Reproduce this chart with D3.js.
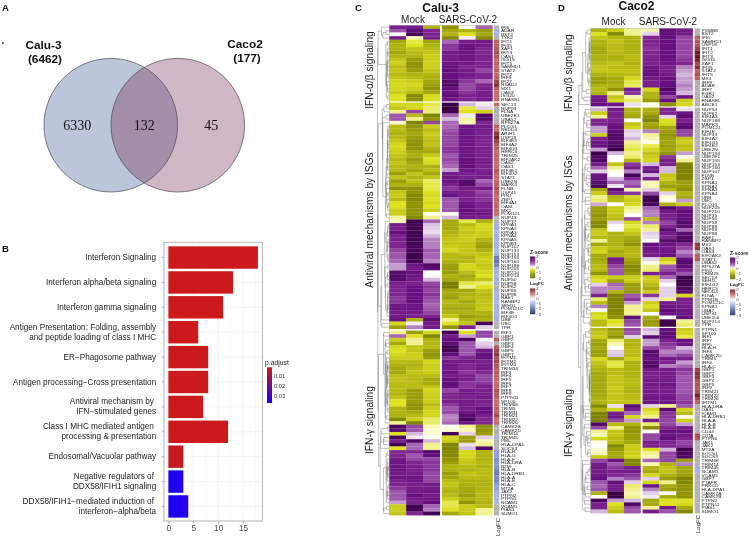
<!DOCTYPE html>
<html><head><meta charset="utf-8">
<script src="https://cdn.jsdelivr.net/npm/d3@7"></script>
<style>
html,body{margin:0;padding:0;background:#fff}
svg{display:block;font-family:"Liberation Sans",Arial,sans-serif;filter:blur(.35px)}
text{white-space:pre}
</style></head><body><div id="chart"></div>
<script>
// ---------- Panel A ----------
const vennSets = ["Calu-3","(6462)","Caco2","(177)"];
const vennCounts = [6330,132,45];
// ---------- Panel B ----------
const pathways = ["Interferon Signaling","Interferon alpha/beta signaling","Interferon gamma signaling",
 "Antigen Presentation: Folding, assembly\nand peptide loading of class I MHC","ER−Phagosome pathway",
 "Antigen processing−Cross presentation","Antiviral mechanism by \nIFN−stimulated genes",
 "Class I MHC mediated antigen \nprocessing & presentation","Endosomal/Vacuolar pathway",
 "Negative regulators of \nDDX58/IFIH1 signaling","DDX58/IFIH1−mediated induction of \ninterferon−alpha/beta"];
const pathwayCounts = [18,13,11,6,8,8,7,12,3,3,4];
const pathwayPadj = [0.001,0.001,0.001,0.001,0.001,0.001,0.001,0.001,0.002,0.034,0.034];
const barTicks = [0,5,10,15];
const padjTicks = [0.01,0.02,0.03];
// ---------- Panel C : Calu-3 ----------
const caluGenes1 = "IFI6 ADAR BST2 TYK2 IFIT1 IFI35 XAF1 IFIT3 OAS1 ISG15 IFIT5 SAMHD1 STAT2 IFIT2 IRF9 IFI27 RSAD2 MX1 OAS3 ISG20 RNASEL".split(" ");
const caluZ1 = [[1.1,1.2,-1,-1.3,0,.6],[.7,1.5,1,-1.1,-1,-1.2],[.05,1.8,1,-1,-.5,-1.1],[1.2,-.1,1.1,-1.4,.1,-1.4],
[-1.1,-.4,-1.1,.6,1.2,1.2],[-1,-.5,-1,.9,1.3,1.2],[-1,-.8,-.9,.9,1.4,1],[-1.1,-.9,-.8,1.2,1.3,1],[-1,-1,-.7,1.2,1.3,1.1],[-.8,-1.2,-.7,1.2,1.3,1],
[-.7,-1.3,-.7,1.3,1.2,1],[-.9,-1.3,-.7,1.4,1,1.1],[-.8,-1.2,-.8,1.4,1.2,.8],[-.9,-1,-.9,1.4,1.2,1],[-.8,-.9,-1,1.4,1.1,1],[-.6,-.7,-1.1,1.6,.9,.6],
[-.6,-.6,-1.2,1.7,.8,1],[-.6,-.7,-1.3,1.4,.8,1.1],[-.7,-.9,-1.1,1.3,.9,1.1],[-.5,-1.4,-.6,1.5,1.1,1.2],[-.5,-1.3,-.5,1.3,1,1.2]];
const caluFC1 = [null,-1,-1,null,1.1,1.1,1.2,1.3,1.2,1,1.1,1,1.1,1,1.1,1.4,1.7,1.1,1,1,1];
const caluGenes2 = "SEC13 NUP93 FLNA UBE2E1 UBA52 RPS27A PLCG1 NEDD4 ARIH1 USP18 EIF4E3 EIF4A2 EIF4G3 HERC5 TRIM25 EIF2AK2 OAS2 OAS1 EIF4E2 EIF4G2 STAT1 UBE2N MAPK3 FLNB USP41 PIN1 ZBP1 EIF4A1 OASL MX2 POM121 NUP43 NUP37 KPNA1 KPNA2 KPNA3 KPNA4 KPNA5 KPNB1 NUP107 NUP133 NUP153 NUP155 NUP160 NUP188 NUP205 NUP210 NUP214 NUP50 NUP58 NUP62 NUP85 NUP98 RAE1 RANBP2 SEH1L POM121C EIF4E EIF4G1 UBB UBC TPR".split(" ");
const caluZ2 = [[-.6,-.6,-.4,2,.3,.1],[-.8,-.6,-.3,2,-.4,.2],[-.2,.8,-.25,1.9,-.5,-.6],[.7,-.9,-1.5,.6,.1,1.7],[.7,-.2,-1.3,.3,-.15,1.6],[-.05,-1.5,.8,.6,-.1,1],
[-.9,-1.3,-.7,.6,1.3,1.2],[-.9,-1.2,-.9,.7,1.3,1.2],[-1,-1.1,-.7,.8,1.3,1.1],[-.9,-1.2,-.8,.8,1.3,1.1],[-.8,-1.3,-.9,.8,1.3,1],[-.6,-1.3,-.8,.8,1.3,1],
[-.6,-1.3,-1,.9,1.3,1.1],[-.7,-1.1,-1.1,.9,1.3,1.1],[-.8,-1,-.7,.7,1.3,1.1],[-.9,-1.2,-.5,.8,1.4,1.1],[-.8,-1.1,-.6,.7,1.4,1.2],[-.9,-1,-1,.6,1.4,1.1],
[-.9,-1.1,-.9,.4,1.3,1.1],[-1.2,-.8,-1.1,1.2,1.1,1.2],[-.8,-1,-.8,1.3,1.1,1.2],[-1.2,-.8,-.3,1.3,1.6,.6],[-1,-1,-.4,1.1,1.6,.8],[-1.3,-1.3,-.4,.9,1.2,1.2],
[-.8,-1.3,-.5,1.2,1.1,.8],[-.7,-1.4,-.6,1.3,1.1,.9],[-.9,-1.4,-.5,.7,1.1,.9],[-.5,-1.3,-.6,.7,1.3,1.1],[-.5,-1.3,-.5,.7,1.4,1.1],[-.7,-1.3,-.7,.7,1.4,1.2],
[-.7,-1.3,0,0,1.3,1.3],[-.15,-1.4,-.2,.3,1.2,1.1],[-.1,1.9,.6,-1.1,-.4,-1],[1.2,1.9,.25,-1.1,-.9,-.6],[1.1,1.9,.2,-1.1,-.7,-.6],[1.4,1.9,.15,-1,-.8,-.7],
[1.1,1.9,.3,-.9,-.7,-.7],[1.1,1.9,.5,-.8,-.7,-1],[1,1.9,.5,-.8,-.8,-1.1],[1.1,1.8,.5,-.7,-.8,-1.2],[.8,1.8,.7,-.6,-.8,-1],[.7,1.9,.6,-.9,-.8,-.8],
[.7,1.9,.6,-.9,-1,-.7],[.6,1.9,.5,-1,-.9,-.7],[.4,1.3,1.7,-1.2,-.6,-.8],[.4,1.2,1.5,-1.2,-.6,-.7],[1.6,1.4,.02,-1.2,-.9,-.6],[1.7,1.3,.02,-1,-1.1,-.5],
[1.6,1.2,.3,-1.1,-1,-.8],[1.1,1.1,.8,-1.6,-.4,-.3],[1.1,1.4,.9,-1.6,-.2,-.5],[1,1.4,.8,-1.1,-1.1,-.8],[1,1.4,.9,-1.1,-1,-.9],[.9,1.4,.8,-1.2,-.9,-.9],
[.9,1.4,.7,-.9,-1.1,-.8],[1.3,1.3,.6,-1,-1,-.8],[1.3,1.3,.7,-1.1,-1.1,-.7],[1.2,1.2,.8,-1,-1,-1],[1.2,1.1,1,-.8,-1.2,-1.1],[1.4,-1,1.6,-.2,-1,-1],[-.6,.1,1.2,-.5,-.8,1.8],[-1.2,.5,1.2,-1.3,1.1,.2]];
const caluFC2 = [1,null,null,null,null,null,1.1,1,1.7,1.9,1.5,1.2,1.1,1,1.1,1.1,1,1,1.2,1.1,1,1,1.1,1.3,1.1,1,1.1,1,1.1,1,1,null,null,
-1,-1,-.9,-1,-1,-1,-1,-.9,-1,-1.7,-1.8,-1.6,-1,-1,-.9,-1,-1,null,-1,-1,-1,-.9,-1,-1,-1,-1,-1,null,null];
const caluGenes3 = "IRF1 GBP1 GBP2 GBP3 GBP4 GBP5 GBP7 IFITM1 IFITM2 IFITM3 TRIM34 IRF3 IRF4 IRF5 IRF6 IRF7 IRF8 IRF9 PTPN11 SP100 TRIM68 TRIM5 TRIM31 TRIM21 TRIM22 TRIM26 CAMK2B CAMK2D TRIM14 TRIM45 PML HLA-DPA1 SOCS3 HLA-H HLA-G HLA-F HLA-DRA B2M HLA-B HLA-DRB1 HLA-A HLA-E HLA-C MT2A JAK2 PTPN2 PTPN1 NCAM1 VCAM1 PIAS1 SUMO1".split(" ");
const caluZ3 = [[-.2,-1.2,-.6,1.9,-.5,.8],[.6,-.5,-1.5,1.2,.4,.8],[-.7,-.2,-1,1.4,1.7,.05],[-1.1,-.2,-1,1.5,.7,.2],[-.6,-.8,-.9,1.9,.7,.3],[-.5,-.8,-1.2,1.9,.7,1.2],[-.6,-.7,-1.3,1.5,.7,1.4],[-.7,-.7,-1.2,.9,1,1.4],
[-.9,-.9,-.6,1.2,1.2,1.1],[-1,-1,-.7,1.3,1,1.2],[-1.1,-.9,-.7,1.2,1,1.2],[-1.1,-.8,-.7,1.3,.9,1],[-.9,-.9,-.9,1.2,1.1,.8],[-.8,-.9,-1.1,1.4,1.1,.8],[-.9,-.9,-1.1,1.5,.9,.9],[-.9,-.9,-.8,1.4,.9,1.1],
[-.9,-1.2,-.6,.8,1.2,1.1],[-1,-1.2,-.7,1,1.2,1.1],[-.8,-1.2,-.7,1,1.1,1.2],[-.5,-1.2,-.7,1.1,1.2,1.1],[-.5,-1.3,-.9,.9,1.2,1],[-1,-1.3,-.7,.7,1.2,1.4],[-1,-1.1,-.6,.8,1.3,1.4],[-1,-.9,-.6,.5,1.6,1.1],
[-1.4,-.7,-.3,.5,1.8,1],[-.2,-1.5,-.3,.6,1.3,1],[1.8,.8,-.1,0,-.2,-1.3],[1.6,.7,-.05,-.05,-.1,-1.3],[-.5,.3,-.05,1.9,.2,-1.2],[1.8,.1,0,-.6,-1.2,.2],[1.1,1.7,.3,-.7,-1.2,-.1],[1.9,.6,-.2,-1.5,.15,-.2],[-.5,.6,-.2,-1.5,.3,1.7],
[1,1,1.6,-1.4,-.6,-1],[1,.7,1.4,-1.4,-.6,-1],[1.2,.8,.8,-1.3,-.7,-1],[1.3,1,.9,-1.2,-.8,-.9],[1.3,1.1,.9,-1,-.9,-1],[1.3,1.1,.9,-1,-1,-.9],[1.2,1.2,.8,-1.2,-.8,-.9],[1.3,1.3,.8,-1.1,-.9,-.9],
[1.1,1.3,.8,-.9,-1,-1],[1,1.1,1.2,-.8,-1,-1],[.9,1.2,1.2,-.9,-1.1,-1],[.7,1.2,1.3,-1,-1.1,-.9],[.7,1.4,1.2,-.9,-1.2,-.9],[.7,1.2,1.3,-.7,-1,-.9],[.4,1.1,1.4,-.4,-1.3,-1],[-.7,1.9,.6,-.4,-.7,-.9],[-.7,1.9,.5,-.5,-.7,-.2],[-.8,1,1.9,-1.1,-.8,-.2]];
const caluFC3 = [null,null,1.1,null,1.2,1.4,1.6,1.3,1.4,1.2,1.1,1.2,1.1,1,1,1,1.3,1.2,1.1,1,1,1.1,1.1,1.4,1,1,null,null,null,-1,null,null,null,
-1.3,-1.2,-1.4,-1.3,-1.4,-1.6,-1.7,-1.5,-1.6,-1.3,-1.2,-1,-1,-.9,-.9,null,null,null];
// ---------- Panel D : Caco2 ----------
const cacoGenes1 = "PSMB8 BST2 IFI6 SAMHD1 USP18 IFIT1 IFIT2 IFIT3 ISG15 XAF1 IFI35 STAT2 IFIT5 MX1 IRF9 ADAR IRF7 EGR1 OAS2 RNASEL ABCE1".split(" ");
const cacoZ1 = [[-1,-.7,-.2,-.1,1.5,1.2],[-.5,-1.4,-.2,.2,1.5,1.2],[-.8,-.9,-1,1,1.4,.8],[-1,-.8,-1,1,1.4,.8],[-1,-.9,-1,1,1.4,.8],[-1.1,-.9,-1,.9,1.4,.8],[-1.1,-.9,-1,1,1.4,.8],[-1,-1,-.9,1,1.4,.8],[-1,-1,-.9,1.1,1.4,.9],
[-.9,-.8,-1,1.1,1.3,1],[-.8,-.9,-.9,1.3,1.1,.5],[-.8,-.8,-.8,1.4,1.1,.4],[-1,-.9,-.9,1.4,1.2,.3],[-1.2,-1.1,-.6,1.2,1.4,.4],[-1.2,-1.1,-.4,1.1,1.4,.4],[-1,-1,-.3,1.1,1.5,.5],[-.9,-1.3,1.2,-.6,1.7,.4],[-1,-.2,.9,-1,1.4,.3],[1.2,-.8,-.1,-1,.8,1.3],[1.3,-.6,-.3,-1.2,1.4,-.7],[1.4,1.3,.15,0,-1.3,-.6]];
const cacoFC1 = [null,null,1.1,1.2,1.2,1.5,2,2,1.9,1.4,1.7,1.1,1.3,1.1,null,null,null,null,null,null,null];
const cacoGenes2 = "NUP54 NUP62 EIF4A3 NUP188 MAPK3 POM121 EIF4E NUP43 EIF4A2 EIF4G1 EIF4E2 UBE2N NUP133 UBE2E1 NUP155 NUP153 NUP160 NUP107 FLNB ZBP1 KPNA1 KPNA2 KPNA3 KPNA4 UBB UBC PLCG1 NUP205 NUP210 NUP35 NUP50 NUP58 NUP88 NUP93 NUP98 RAE1 RANBP2 MX2 OAS1 OAS3 EIF2AK2 STAT1 UBA52 RPS27A PIN1 TRIM25 SEC13 SEH1L EIF4G2 HERC5 NEDD4 FLNA PPM1B POM121C KPNB1 UBA7 USP41 UBE2L6 NUP214 TPR".split(" ");
const cacoZ2 = [[.3,1.2,-1,-1,1,.15],[-.7,1.1,-1,-1.1,1,1.3],[-.2,1.1,-1.1,-1.3,.2,1.5],[1,1.1,0,-1.5,-.5,1.1],[1.1,1.3,-.8,-1.1,-.6,1.4],[.4,1.4,-.6,-1.2,-1.1,1.6],[.4,1.5,.2,.5,-1.2,.8],[-.7,1.7,.15,-.2,-1.3,.8],[1.1,1.6,.3,-.1,-1.2,-.8],[1.3,1.6,-.2,-.02,-1.1,-.7],
[1.4,1.7,-.3,-.4,-1.2,-.9],[.4,2,-.4,-.6,-1.1,-.8],[2,.3,-.2,-.8,-1.3,.4],[1.7,.02,-.3,-.7,.9,-.02],[1.7,.02,-1,-.6,1.2,-.2],[1.2,-.8,.9,.3,1.1,-1.5],[.6,-.2,1.2,1.2,.3,-1.6],[.2,-.02,.5,1.3,.3,-1.5],[1.3,.02,1.8,.3,-.8,-1.5],[1.4,.3,1,1.1,-.7,-1.5],
[1.6,.6,.6,-.1,-1,-1.2],[1.8,.1,.8,-.1,-1.2,-1.2],[-1.1,1.5,-.1,.2,-.9,-1.3],[-.7,1,.9,.8,.2,-1],[-.2,-1,-.6,1.9,-.05,-1.1],[-.3,-.9,-.7,2,-.02,.4],[.35,.02,-.6,1.8,-1,-.7],[-1.2,-.7,-.2,.6,1.7,1.2],[-1.2,-.7,-.1,.5,1.2,1.5],[-1.3,-.8,.02,.5,1.1,1.4],
[-1.2,-.9,.8,-.9,1.1,1.5],[-1.4,.2,-.6,.5,.8,1.6],[-1.4,.02,-.4,-.3,1,1.6],[-.8,.02,-.6,-.2,1.6,.6],[-.7,-1,-.8,.2,1.2,1.6],[-.9,-1,-1.1,.15,1,1.7],[-.2,-1,-1.2,.02,1.6,1.7],[-1.1,-1,-1.3,1.4,1.3,1],[-.7,-.9,-1,1.3,1.2,.8],[-.6,-1.1,-.9,1.2,1.3,.5],
[-1.1,-1,-.9,1.2,1.4,.7],[-1.1,1.2,-1.1,.2,-.7,1.4],[-1,1.1,-1.2,-.02,-.4,1.6],[-.9,.8,-1.4,-.2,.7,1.5],[-.9,.7,-1.4,-.3,.8,1.1],[-1.3,.7,-1.2,1.1,1.1,.7],[-.6,-.7,-.7,-.7,.6,2],[-.5,-1.2,-.7,-.7,.2,2],[.2,.6,-1.2,-.9,.02,1.9],[.5,.5,-1.2,-1.1,.2,1.7],
[.5,-1,-1.3,-.7,.2,1.6],[1.1,-1.5,.7,.9,.2,-.6],[-.3,-1.5,.9,.2,-.2,1.1],[-.9,-1.5,.4,-.7,1.2,1.1],[.5,-1.5,-.2,-.5,1.3,1.2],[.02,-1.4,-.2,-.8,1.5,1.3],[-.6,-1.4,-.2,.02,1.3,1.3],[-.5,-1.3,1.5,-1.1,.05,1.4],[-.9,-.5,.8,-1.2,1.9,-.2],[-.9,-.4,.7,-1.2,2,-.3]];
const cacoFC2 = [null,null,null,null,null,null,null,null,null,null,null,null,null,null,null,null,null,null,null,null,null,null,null,null,null,null,null,null,null,null,null,null,null,null,null,null,null,1.6,1.6,null,1.2,1.2,null,null,null,null,null,null,null,null,null,null,null,null,null,null,null,null,null,null];
const cacoGenes3 = "PTPN1 SP100 IRF1 IRF7 IRF5 HLA-H IRF3 CAMK2D TRIM5 IRF4 HLA-C GBP1 GBP2 GBP3 GBP4 GBP5 IRF9 TRIM21 TRIM22 TRIM26 IFITM1 HLA-DRA OASL ICAM1 HLA-DRB1 HLA-A HLA-B HLA-E CD44 CIITA PTPN6 JAK1 JAK2 MT2A SOCS1 SOCS3 TRIM68 TRIM14 TRIM45 NCAM1 VCAM1 GBP7 PTAFR PRKCD HLA-DPA1 CAMK2A CAMK2B PTPN2 PTPN11 PIAS1 SUMO1".split(" ");
const cacoZ3 = [[-.9,-1.2,.8,.3,1.4,-.7],[-.8,-1.1,.7,.2,1.5,-.6],[-.7,-1.3,.2,1.6,1.5,-.4],[-1.1,-.3,-1,.4,1.1,1.4],[-1.2,-.1,-1,.4,.9,1.3],[-1.1,.03,-.9,.8,.8,.3],[-1.2,.2,-.9,1.6,.5,.5],[-1.2,.25,-.9,1.5,.6,.8],[-.6,-1.1,-.7,1.4,1.3,1.1],[-.8,-.4,-1,1.6,1,.4],[-.9,-.4,-1,1.7,.5,.6],
[-1,-.9,-1,1.2,1.2,.9],[-1.1,-.9,-1,1.1,1.2,.8],[-1.1,-.8,-1,1.1,1.2,.7],[-1.1,-.8,-.9,1.2,1.2,.7],[-1.1,-.8,-.9,1.2,1.3,.7],[-1.1,-.7,-1,1.1,1.2,.7],[-1.1,-.8,-1,1.2,1.2,.7],[-1.1,-.8,-.9,1.2,1.2,.8],[-1,-.8,-.9,1.3,1.3,.8],[-1,-.8,-.8,1.3,1.3,.9],
[-1.4,.15,1.5,.2,-.2,.7],[-1,-.6,1.2,-.6,1.6,-.6],[-1.5,1.1,.6,-.4,.9,-.9],[-1.5,1.3,-.6,-.2,.9,-.02],[-1.5,.8,.4,1.2,.8,-.7],[1.7,-.9,-1,-.3,.8,.4],[.8,-.2,-1.3,-1.4,1,1.2],[-.2,-.8,-1.3,.02,1.4,1.4],[-.1,-.8,-1.2,.8,1.3,1.2],[-.6,-.9,-1.2,.8,1.5,1],
[-.02,-.9,-1.1,1.1,1,.8],[.02,-1.4,-.7,1.1,1,.9],[-.05,-1.2,-.7,-.5,.3,1.9],[-.1,-1.1,-.7,-.2,.8,1.8],[-.7,-1.1,-.6,-.1,.8,1.7],[.8,1.3,-1.4,.6,.8,-1.2],[1.2,.7,-1.4,-.1,-1,.5],[1.3,.9,1.2,-1,-.8,-1.1],[1.2,1.1,1.2,-1.1,-.8,-1.1],[1.3,1,.9,-.6,-1,-1.2],
[1.4,.5,.7,.2,-1.2,-1.5],[.7,1.4,.2,-.6,-.2,-1.4],[.6,1.2,-.3,1.3,-1.1,-1.3],[.7,1.2,-.2,.5,-1.2,-1.3],[-1,2,-.1,.2,.02,-1.3],[-.02,2,-.2,.1,-1.1,-1.3],[1.8,.4,.3,-1.1,-.5,-.5],[1.1,-.5,1.7,-1.1,-.5,-.6],[1.1,-.7,.8,-.2,1.2,-1.1],[.3,-.9,.7,1.2,.7,-1.4]];
const cacoFC3 = [null,null,null,null,null,null,null,null,null,null,null,1.5,1.7,1.6,1.3,1.3,1.2,1.3,1.9,1.4,1.1,null,null,null,null,null,null,null,null,1.3,1.2,null,null,null,null,null,null,null,-1,-1,null,null,null,null,null,null,null,null,null,null,null];
const conditionLabels = ["Mock","SARS-CoV-2"];
const sectionLabels = ["IFN-α/β signaling","Antiviral mechanisms by ISGs","IFN-γ signaling"];
const zTicks = [2,1,0,-1,-2];
const fcTicks = [2,1,0,-1,-2,-3];

const W=749,H=537;
const svg=d3.select("#chart").append("svg").attr("width",W).attr("height",H);
const serif='"Liberation Serif","Times New Roman",serif';
function label(x,y,t,size,opts={}){
  const s=svg.append("text").attr("x",x).attr("y",y).attr("font-size",size).attr("dominant-baseline","central")
    .attr("text-anchor",opts.anchor||"start").attr("fill",opts.fill||"#111").text(t);
  if(opts.bold)s.attr("font-weight","bold");
  if(opts.family)s.attr("font-family",opts.family);
  if(opts.rot)s.attr("transform",`rotate(-90 ${x} ${y})`);
  return s;
}
// Panel letters
label(2,7,"A",9.5,{bold:true});label(2,248,"B",9.5,{bold:true});label(355,7,"C",9.5,{bold:true});label(558,7,"D",9.5,{bold:true});
label(1.5,43,"·",10,{bold:true});

// ---------- Venn ----------
const vennX=d3.scaleLinear().domain([0,1]).range([110.8,177.8]);
const vennR=66.8,vennY=125.2;
const defs=svg.append("defs");
defs.append("clipPath").attr("id","vclip").append("circle").attr("cx",vennX(0)).attr("cy",vennY).attr("r",vennR);
const venn=svg.append("g");
venn.selectAll("circle.base").data([[0,"#bcc5da"],[1,"#d0b7c6"]]).join("circle").attr("class","base")
  .attr("cx",d=>vennX(d[0])).attr("cy",vennY).attr("r",vennR).attr("fill",d=>d[1]);
venn.append("circle").attr("cx",vennX(1)).attr("cy",vennY).attr("r",vennR).attr("fill","#a48fa9").attr("clip-path","url(#vclip)");
venn.selectAll("circle.edge").data([0,1]).join("circle").attr("class","edge")
  .attr("cx",d=>vennX(d)).attr("cy",vennY).attr("r",vennR).attr("fill","none").attr("stroke","#4a4a50").attr("stroke-width",.7);
label(43.5,45,vennSets[0],11.8,{bold:true,anchor:"middle"});
label(45,59,vennSets[1],11.8,{bold:true,anchor:"middle"});
label(245,43.5,vennSets[2],11.8,{bold:true,anchor:"middle"});
label(247,58,vennSets[3],11.8,{bold:true,anchor:"middle"});
[[-.5,0],[.5,1],[1.5,2]].forEach(([p,i])=>label(vennX(p),125.5,String(vennCounts[i]),14,{anchor:"middle",family:serif}));

// ---------- Bars ----------
const bx=d3.scaleLinear().domain([-.9,18.9]).range([163.9,262.4]);
const by=d3.scaleBand().domain(d3.range(pathways.length)).range([245.1,518.9]).paddingInner(.1).paddingOuter(.05);
const padjColor=d3.scaleLinear().domain([0.001,0.034]).range(["#cc1a1c","#2200f0"]);
const bp=svg.append("g");
bp.append("g").selectAll("line").data(d3.range(2.5,18.9,2.5)).join("line").attr("x1",d=>bx(d)).attr("x2",d=>bx(d)).attr("y1",242.3).attr("y2",521)
  .attr("stroke",d=>d%5===0?"#ebebeb":"#f3f3f3").attr("stroke-width",.6);
bp.append("line").attr("x1",bx(0)).attr("x2",bx(0)).attr("y1",242.3).attr("y2",521).attr("stroke","#ebebeb").attr("stroke-width",.6);
bp.append("g").selectAll("line").data(d3.range(pathways.length)).join("line").attr("x1",bx.range()[0]).attr("x2",bx.range()[1])
  .attr("y1",i=>by(i)+by.bandwidth()/2).attr("y2",i=>by(i)+by.bandwidth()/2).attr("stroke","#ebebeb").attr("stroke-width",.6);
bp.append("g").selectAll("rect").data(pathwayCounts).join("rect").attr("x",bx(0)).attr("width",d=>bx(d)-bx(0))
  .attr("y",(d,i)=>by(i)).attr("height",by.bandwidth()).attr("fill",(d,i)=>padjColor(pathwayPadj[i]));
bp.append("rect").attr("x",163.9).attr("y",242.3).attr("width",98.5).attr("height",278.7).attr("fill","none").attr("stroke","#b5b5b5").attr("stroke-width",1);
const xAxis=d3.axisBottom(bx).tickValues(barTicks).tickSize(2).tickPadding(2);
const xg=bp.append("g").attr("transform","translate(0,521.5)").call(xAxis);
xg.select(".domain").remove();xg.selectAll("line").attr("stroke","#555").attr("stroke-width",.5);
xg.selectAll("text").attr("font-size",8.2).attr("fill","#4a4a4a").attr("font-family",null);
pathways.forEach((p,i)=>{
  const yc=by(i)+by.bandwidth()/2, lines=p.split("\n");
  bp.append("line").attr("x1",161.8).attr("x2",163.6).attr("y1",yc).attr("y2",yc).attr("stroke","#555").attr("stroke-width",.5);
  lines.forEach((l,j)=>label(156.2,yc+(j-(lines.length-1)/2)*10,l,8.2,{anchor:"end",fill:"#222"}));
});
// p.adjust legend
const gp=defs.append("linearGradient").attr("id","gp").attr("x1",0).attr("x2",0).attr("y1",0).attr("y2",1);
gp.selectAll("stop").data([0,.33,.66,1]).join("stop").attr("offset",d=>d).attr("stop-color",d=>d3.interpolateRgb("#cc1a1c","#2200f0")(d));
svg.append("rect").attr("x",267).attr("y",367.3).attr("width",5).attr("height",35.7).attr("fill","url(#gp)");
label(265,362.5,"p.adjust",6.8,{fill:"#222"});
const padjScale=d3.scaleLinear().domain([.01,.03]).range([376.2,395.6]);
padjTicks.forEach(t=>label(274,padjScale(t),t.toFixed(2),5.8,{fill:"#333"}));

// ---------- Heatmaps ----------
const zColor=d3.scaleLinear().domain([-2,-1.4,-1,-.5,-.1,.02,.25,.6,1,1.4,2])
  .range(["#5f6400","#858900","#b0b210","#dde11e","#f7f7b4","#ffffff","#dcc4e3","#a666b4","#7f2590","#661080","#3a0048"]).clamp(true);
const fcColor=d3.scaleLinear().domain([-3,-2,-1,0,1,2]).range(["#1d2a63","#5866a6","#a3b0ea","#ffffff","#c66a6a","#6a1a20"]).clamp(true);
const naColor="#b3b3b3";

function mergeAdjacent(nodes){
  const dist=(a,b)=>Math.sqrt(d3.sum(a.z,(v,i)=>(v-b.z[i])**2));
  nodes=nodes.slice();
  while(nodes.length>1){
    let best=0,bd=Infinity;
    for(let i=0;i<nodes.length-1;i++){const d=dist(nodes[i],nodes[i+1]);if(d<bd){bd=d;best=i;}}
    const a=nodes[best],b=nodes[best+1],n=a.n+b.n;
    nodes.splice(best,2,{children:[a,b],n,h:Math.max(bd,a.h,b.h)*1.04,z:a.z.map((v,i)=>(v*a.n+b.z[i]*b.n)/n)});
  }
  return nodes[0];
}
function heatmap(cfg){
  const g=svg.append("g");
  const colA=d3.scaleBand().domain([0,1,2]).range(cfg.xA);
  const colB=d3.scaleBand().domain([3,4,5]).range(cfg.xB);
  const colX=c=>c<3?colA(c):colB(c);
  const roots=cfg.blocks.map(b=>{
    const ys=d3.scaleBand().domain(d3.range(b.z.length)).range(b.y);
    const rowG=g.append("g").selectAll("g").data(b.z).join("g").attr("transform",(d,i)=>`translate(0,${ys(i)})`);
    rowG.selectAll("rect").data(d=>d).join("rect").attr("x",(d,c)=>colX(c)).attr("width",colA.bandwidth())
      .attr("height",ys.bandwidth()).attr("fill",d=>zColor(d)).attr("stroke",d=>zColor(d)).attr("stroke-width",.15);
    g.append("g").selectAll("rect").data(b.fc).join("rect").attr("x",cfg.xFC[0]).attr("width",cfg.xFC[1]-cfg.xFC[0])
      .attr("y",(d,i)=>ys(i)).attr("height",ys.bandwidth()+.1).attr("fill",d=>d===null?naColor:fcColor(d));
    g.append("g").selectAll("text").data(b.genes).join("text")
      .attr("transform",(d,i)=>`translate(${cfg.xFC[1]+1.6},${ys(i)+ys.bandwidth()/2}) scale(1.15,1)`)
      .attr("dominant-baseline","central").attr("font-size",4.2).attr("fill","#222").text(d=>d);
    const nodes=b.z.map((z,i)=>({z,n:1,h:0,yPos:ys(i)+ys.bandwidth()/2}));
    return mergeAdjacent(nodes);
  });
  // dendrogram
  const top=mergeAdjacent(roots);
  const root=d3.hierarchy(top);
  const dx=d3.scalePow().exponent(.8).domain([0,top.h]).range([cfg.xA[0]-.4,cfg.dendX]);
  root.eachAfter(n=>{ if(n.children){n.data.yPos=d3.mean(n.children,c=>c.data.yPos);} });
  const dp=d3.path();
  root.descendants().filter(n=>n.children).forEach(n=>{
    const x=dx(n.data.h),[a,b]=n.children;
    dp.moveTo(dx(a.data.h),a.data.yPos);dp.lineTo(x,a.data.yPos);dp.lineTo(x,b.data.yPos);dp.lineTo(dx(b.data.h),b.data.yPos);
  });
  g.append("path").attr("d",dp.toString()).attr("fill","none").attr("stroke","#7d7d7d").attr("stroke-width",.5);
  // frame
  const yTop=cfg.blocks[0].y[0],yBot=cfg.blocks[2].y[1];
  g.append("path").attr("d",`M${cfg.xA[0]},${yBot}V${yTop}H${cfg.xB[1]}`).attr("fill","none").attr("stroke","#8a8a8a").attr("stroke-width",.35);
  // titles
  label(cfg.titleX,cfg.titleY,cfg.title,12,{bold:true,anchor:"middle"});
  label(cfg.condX[0],cfg.condY,conditionLabels[0],10,{anchor:"middle",fill:"#222"});
  label(cfg.condX[1],cfg.condY,conditionLabels[1],10,{anchor:"middle",fill:"#222"});
  sectionLabels.forEach((s,i)=>label(cfg.secX,cfg.secY[i],s,cfg.secSize,{anchor:"middle",rot:true,fill:"#222"}));
  label(cfg.logfc[0],cfg.logfc[1],"LogFC",6,{anchor:"middle",rot:true,fill:"#222"});
  // legends
  const lx=cfg.legX, zY=d3.scaleLinear().domain([2,-2]).range(cfg.zY), fY=d3.scaleLinear().domain([2,-3]).range(cfg.fY);
  label(lx,cfg.zY[0]-4.2,"Z-score",5,{bold:true});
  label(lx,cfg.fY[0]-5,"LogFC",4.4,{bold:true});
  g.append("g").selectAll("rect").data(d3.range(2,-2,-.1)).join("rect").attr("x",lx).attr("width",5.2)
    .attr("y",d=>zY(d)).attr("height",zY(0)-zY(.1)+.2).attr("fill",d=>zColor(d-.05));
  g.append("g").selectAll("rect").data(d3.range(2,-3,-.1)).join("rect").attr("x",lx).attr("width",5.2)
    .attr("y",d=>fY(d)).attr("height",fY(0)-fY(.1)+.2).attr("fill",d=>fcColor(d-.05));
  zTicks.forEach(t=>label(lx+6.2,zY(t),String(t).replace("-","−"),4.2,{fill:"#333"}));
  fcTicks.forEach(t=>label(lx+6.2,fY(t),String(t).replace("-","−"),4.2,{fill:"#333"}));
}
heatmap({title:"Calu-3",titleX:440.7,titleY:7.5,condX:[413,468],condY:19.5,xA:[389.3,440],xB:[442,492.7],xFC:[494,499.3],dendX:377.5,
  secX:369,secY:[70,220,420],secSize:10.2,logfc:[498,527],legX:530,zY:[256.5,278],fY:[288.5,314],
  blocks:[{z:caluZ1,fc:caluFC1,genes:caluGenes1,y:[25.4,101.3]},{z:caluZ2,fc:caluFC2,genes:caluGenes2,y:[102.7,329]},{z:caluZ3,fc:caluFC3,genes:caluGenes3,y:[330.7,515.3]}]});
heatmap({title:"Caco2",titleX:636.5,titleY:6,condX:[613.5,668],condY:21,xA:[590.7,640.7],xB:[642.7,693],xFC:[694.7,700],dendX:578.5,
  secX:568,secY:[73,223,423],secSize:10.2,logfc:[698,524],legX:730,zY:[257.5,279],fY:[289.5,315],
  blocks:[{z:cacoZ1,fc:cacoFC1,genes:cacoGenes1,y:[28.4,106.3]},{z:cacoZ2,fc:cacoFC2,genes:cacoGenes2,y:[107.7,326.7]},{z:cacoZ3,fc:cacoFC3,genes:cacoGenes3,y:[328,513.3]}]});
</script></body></html>
